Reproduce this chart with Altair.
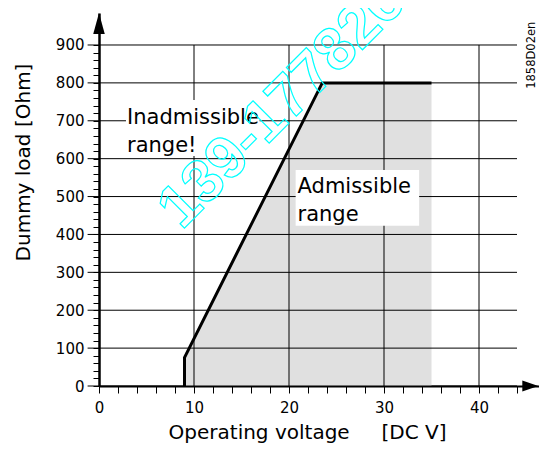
import altair as alt
import pandas as pd

# ---- data ----
curve_v = [9, 9, 23.5, 35]          # operating voltage [DC V]
curve_r = [0, 75, 800, 800]         # dummy load [Ohm]

x_ticks = [0, 2, 4, 6, 8, 10, 12, 14, 16, 18, 20, 22, 24, 26, 28, 30, 32, 34, 36, 38, 40, 42, 44]
y_ticks = [0, 20, 40, 60, 80, 100, 120, 140, 160, 180, 200, 220, 240, 260, 280, 300, 320, 340, 360, 380,
           400, 420, 440, 460, 480, 500, 520, 540, 560, 580, 600, 620, 640, 660, 680, 700, 720, 740, 760,
           780, 800, 820, 840, 860, 880, 900]
x_grid = [10, 20, 30, 40]
y_grid = [0, 100, 200, 300, 400, 500, 600, 700, 800, 900]
grid_x_from = [-1.2]
grid_x_to = [44]
grid_y_top = [900]

box_text = ["Inadmissible\nrange!", "Admissible\nrange"]
box_x1 = [2.84, 20.7]
box_x2 = [16.9, 33.7]
box_y1 = [755, 570]
box_y2 = [607, 423]
text_x = [2.95, 20.9]
text_y = [737, 553]

arrow_x = [0, 45.4]
arrow_y = [957, 0]
arrow_shape = ["M0,-1L0.55,1L-0.55,1Z", "M1,0L-1,-0.7L-1,0.7Z"]
arrow_size = [441, 256]

code_text = ["1858D02en"]
code_x = [45.55]
code_y = [873]

wm_text = ["139-177826"]
wm_x = [8.7]
wm_y = [410]

X_DOM = [0, 440 / 9.5]
Y_DOM = [0, 373 / 0.3789]
FONT = "DejaVu Sans"

xs = alt.Scale(domain=X_DOM, nice=False, zero=False)
ys = alt.Scale(domain=Y_DOM, nice=False, zero=False)

curve = pd.DataFrame({"v": curve_v, "r": curve_r, "base": [0] * len(curve_v),
                      "i": list(range(len(curve_v)))})
hgrid = pd.DataFrame({"y": y_grid, "x1": grid_x_from * len(y_grid), "x2": grid_x_to * len(y_grid)})
vgrid = pd.DataFrame({"x": x_grid, "y1": [0] * len(x_grid), "y2": grid_y_top * len(x_grid)})
boxes = pd.DataFrame({"t": box_text, "x1": box_x1, "x2": box_x2, "y1": box_y1, "y2": box_y2,
                      "tx": text_x, "ty": text_y})
arrows = pd.DataFrame({"x": arrow_x, "y": arrow_y, "s": arrow_shape, "z": arrow_size})
code = pd.DataFrame({"t": code_text, "x": code_x, "y": code_y})
wm = pd.DataFrame({"t": wm_text, "x": wm_x, "y": wm_y})

x_axis = alt.Axis(values=x_ticks, grid=False, domainColor="black", domainWidth=2,
                  tickColor="black", tickWidth=1, tickSize=7,
                  labelExpr="datum.value % 10 === 0 ? datum.label : ''",
                  labelFont=FONT, labelFontSize=15, labelColor="black", labelPadding=7,
                  labelFlush=False, labelOverlap=False,
                  title="Operating voltage\u00a0\u00a0\u00a0\u00a0\u00a0[DC V]",
                  titleFont=FONT, titleFontSize=20, titleFontWeight="normal", titleColor="black",
                  titleX=208, titleY=52, titleAlign="center", titleBaseline="alphabetic")
y_axis = alt.Axis(values=y_ticks, grid=False, domainColor="black", domainWidth=2.5,
                  tickColor="black", tickWidth=1, tickSize=6,
                  labelExpr="datum.value % 100 === 0 ? datum.label : ''",
                  labelFont=FONT, labelFontSize=15, labelColor="black", labelPadding=9,
                  labelFlush=False, labelOverlap=False,
                  title="Dummy load [Ohm]", titleFont=FONT, titleFontSize=20,
                  titleFontWeight="normal", titleColor="black",
                  titleAngle=270, titleX=-70, titleY=149, titleAlign="center",
                  titleBaseline="alphabetic")


def X(field):
    return alt.X(field, scale=xs, axis=x_axis)


def Y(field, **kw):
    return alt.Y(field, scale=ys, axis=y_axis, **kw)


area = alt.Chart(curve).mark_area(color="#e0e0e0", opacity=1, fillOpacity=1).encode(
    x=X("v:Q"), y=Y("r:Q", stack=False), y2="base:Q")

hg = alt.Chart(hgrid).mark_rule(color="black", strokeWidth=1).encode(
    x=X("x1:Q"), x2="x2:Q", y=Y("y:Q"))
vg = alt.Chart(vgrid).mark_rule(color="black", strokeWidth=1).encode(
    x=X("x:Q"), y=Y("y2:Q"), y2="y1:Q")

line = alt.Chart(curve).mark_line(color="black", strokeWidth=3, strokeJoin="miter").encode(
    x=X("v:Q"), y=Y("r:Q"), order="i:O")

rects = alt.Chart(boxes).mark_rect(color="white", opacity=1).encode(
    x=X("x1:Q"), x2="x2:Q", y=Y("y1:Q"), y2="y2:Q")
texts = alt.Chart(boxes).mark_text(align="left", baseline="top", font=FONT, fontSize=21,
                                   lineBreak="\n", lineHeight=28, color="black").encode(
    x=X("tx:Q"), y=Y("ty:Q"), text="t:N")

arr = alt.Chart(arrows).mark_point(filled=True, color="black", opacity=1, strokeWidth=0).encode(
    x=X("x:Q"), y=Y("y:Q"),
    shape=alt.Shape("s:N", scale=None), size=alt.Size("z:Q", scale=None))

codet = alt.Chart(code).mark_text(angle=270, font=FONT, fontSize=11.5, color="black",
                                  align="center", baseline="middle").encode(
    x=X("x:Q"), y=Y("y:Q"), text="t:N")

wmt = alt.Chart(wm).mark_text(angle=315, font="Liberation Sans", fontWeight="bold", fontSize=60,
                              align="left", baseline="alphabetic", stroke="#00ffff",
                              strokeWidth=1.2, fillOpacity=0).encode(
    x=X("x:Q"), y=Y("y:Q"), text="t:N")

chart = alt.layer(area, hg, vg, line, rects, texts, wmt, arr, codet).properties(
    width=440, height=373,
    autosize=alt.AutoSizeParams(type="none"),
    padding={"left": 91, "top": 5, "right": 0, "bottom": 57},
    background="white",
).configure_view(stroke=None)

chart.save("out.html", embed_options={"renderer": "svg", "actions": False})
